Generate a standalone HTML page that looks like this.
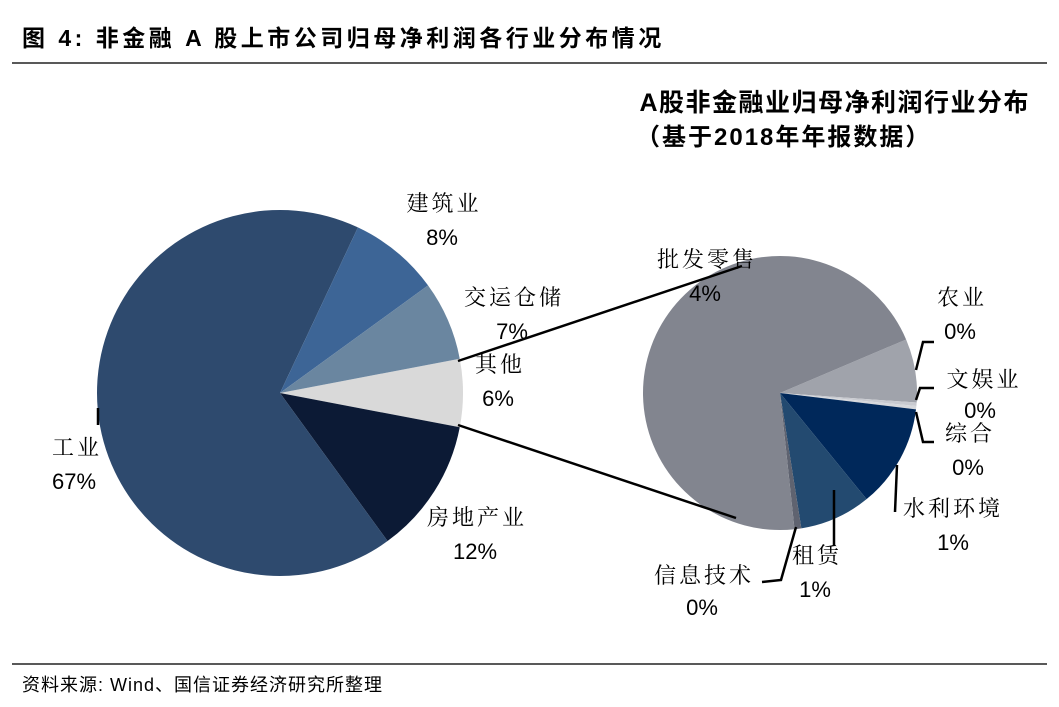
<!DOCTYPE html>
<html><head><meta charset="utf-8"><style>
body{margin:0;background:#fff;}
svg text{font-family:"Liberation Sans","Noto Sans CJK SC",sans-serif;fill:#000;}
.lbl text{font-family:"Liberation Sans","Noto Serif CJK SC",serif;letter-spacing:3px;}
.lbl text.p{letter-spacing:0;}
</style></head><body>
<svg width="1059" height="702" viewBox="0 0 1059 702">
<text x="22" y="46" font-size="23" font-weight="bold" letter-spacing="3.5">图 4:  非金融 A 股上市公司归母净利润各行业分布情况</text>
<line x1="12" y1="63" x2="1047" y2="63" stroke="#222" stroke-width="1.5"/>
<text x="1030" y="111" font-size="25" font-weight="bold" letter-spacing="1.5" text-anchor="end">A股非金融业归母净利润行业分布</text>
<text x="636" y="145" font-size="24" font-weight="bold" letter-spacing="2">（基于2018年年报数据）</text>
<g id="left"></g>
<g id="right"></g>
<line x1="458" y1="361" x2="742" y2="266" stroke="#000" stroke-width="2.5"/>
<line x1="458" y1="425" x2="736" y2="518" stroke="#000" stroke-width="2.5"/>
<g stroke="#000" stroke-width="2.5" fill="none">
<polyline points="98,408 98,425"/>
<polyline points="916,370 923,342 934,342"/>
<polyline points="916,400 920,388 934,388"/>
<polyline points="916,412 923,442 934,442"/>
<polyline points="897,465 895,512"/>
<polyline points="834,490 834,545"/>
<polyline points="796,527 781,580 762,582"/>
</g>
<g class="lbl" font-size="22" text-anchor="middle">
<text x="444" y="211">建筑业</text><text class="p" x="442" y="245">8%</text>
<text x="514" y="305">交运仓储</text><text class="p" x="512" y="339">7%</text>
<text x="500" y="372">其他</text><text class="p" x="498" y="406">6%</text>
<text x="77" y="455">工业</text><text class="p" x="74" y="489">67%</text>
<text x="477" y="525">房地产业</text><text class="p" x="475" y="559">12%</text>
<text x="707" y="267">批发零售</text><text class="p" x="705" y="301">4%</text>
<text x="962" y="305">农业</text><text class="p" x="960" y="339">0%</text>
<text x="984" y="387">文娱业</text><text class="p" x="980" y="418">0%</text>
<text x="970" y="441">综合</text><text class="p" x="968" y="475">0%</text>
<text x="953" y="516">水利环境</text><text class="p" x="953" y="550">1%</text>
<text x="817" y="563">租赁</text><text class="p" x="815" y="597">1%</text>
<text x="704" y="583">信息技术</text><text class="p" x="702" y="615">0%</text>
</g>
<line x1="12" y1="664" x2="1047" y2="664" stroke="#222" stroke-width="1.5"/>
<text x="22" y="691" font-size="18" letter-spacing="1">资料来源: Wind、国信证券经济研究所整理</text>
</svg>
<script>
const leftCats=["其他","房地产业","工业","建筑业","交运仓储"];
const leftVals=[6,12,67,8,7];
const leftColors=["#d9d9d9","#0c1a35","#2e4a6e","#3d6596","#6a86a0"];
const rightCats=["农业","文娱业","综合","水利环境","租赁","信息技术","批发零售"];
const rightVals=[7.5,0.4,0.4,12.2,8.4,0.8,70.3];
const rightColors=["#a0a3ab","#c8cad0","#d6d8dc","#00285a","#234a70","#5f6370","#82858f"];
function pie(gid,cats,vals,colors,cx,cy,r,startDeg){
  const g=document.getElementById(gid);
  const tot=vals.reduce((a,b)=>a+b,0);
  let a=startDeg*Math.PI/180;
  vals.forEach((v,i)=>{
    const da=v/tot*2*Math.PI, b=a+da;
    const p=document.createElementNS("http://www.w3.org/2000/svg","path");
    const x1=cx+r*Math.cos(a),y1=cy+r*Math.sin(a),x2=cx+r*Math.cos(b),y2=cy+r*Math.sin(b);
    p.setAttribute("d",`M${cx},${cy}L${x1},${y1}A${r},${r} 0 ${da>Math.PI?1:0} 1 ${x2},${y2}Z`);
    p.setAttribute("fill",colors[i]);
    
    
    g.appendChild(p);
    a=b;
  });
}
pie("left",leftCats,leftVals,leftColors,280,393,183,-10.8);
pie("right",rightCats,rightVals,rightColors,780,393,137,-23);
</script>
</body></html>
